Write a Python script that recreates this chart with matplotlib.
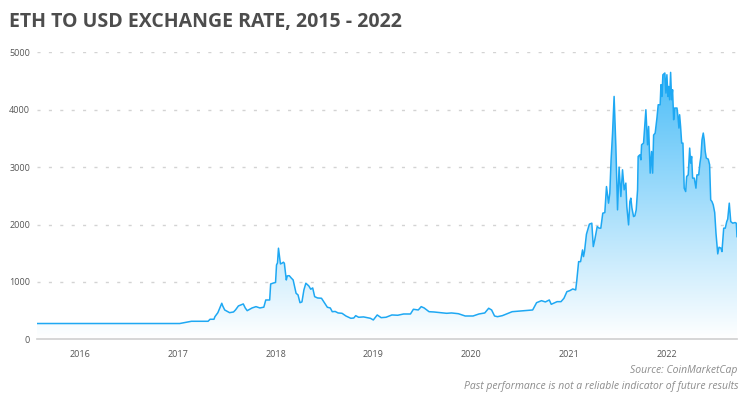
import numpy as np
import matplotlib
matplotlib.use("Agg")
import matplotlib.pyplot as plt
from matplotlib.colors import LinearSegmentedColormap

title = "ETH TO USD EXCHANGE RATE, 2015 - 2022"
source = "Source: CoinMarketCap"
disclaimer = "Past performance is not a reliable indicator of future results"
year_ticks = [2016, 2017, 2018, 2019, 2020, 2021, 2022]
price_ticks = [0, 1000, 2000, 3000, 4000, 5000]

# decimal-year positions of the sampled points
dates = [
    2015.56, 2017.02, 2017.14, 2017.31, 2017.33, 2017.37, 2017.38, 2017.41, 2017.45, 2017.46,
    2017.48, 2017.53, 2017.57, 2017.59, 2017.62, 2017.67, 2017.69, 2017.71, 2017.76, 2017.80,
    2017.84, 2017.88, 2017.90, 2017.94, 2017.95, 2017.98, 2018.00, 2018.01, 2018.02, 2018.03,
    2018.05, 2018.07, 2018.08, 2018.09, 2018.11, 2018.12, 2018.14, 2018.16, 2018.18, 2018.21,
    2018.23, 2018.25, 2018.27, 2018.29, 2018.31, 2018.34, 2018.36, 2018.38, 2018.40, 2018.43,
    2018.47, 2018.50, 2018.53, 2018.56, 2018.58, 2018.61, 2018.64, 2018.68, 2018.72, 2018.77,
    2018.80, 2018.82, 2018.85, 2018.90, 2018.97, 2019.00, 2019.04, 2019.08, 2019.13, 2019.19,
    2019.25, 2019.31, 2019.38, 2019.41, 2019.46, 2019.49, 2019.52, 2019.57, 2019.62, 2019.69,
    2019.75, 2019.80, 2019.87, 2019.94, 2020.02, 2020.08, 2020.14, 2020.18, 2020.21, 2020.24,
    2020.27, 2020.32, 2020.42, 2020.54, 2020.63, 2020.67, 2020.72, 2020.76, 2020.80, 2020.82,
    2020.88, 2020.92, 2020.95, 2020.98, 2021.01, 2021.04, 2021.07, 2021.08, 2021.10, 2021.12,
    2021.14, 2021.15, 2021.16, 2021.18, 2021.21, 2021.235, 2021.25, 2021.265, 2021.29, 2021.31,
    2021.327, 2021.347, 2021.368, 2021.385, 2021.396, 2021.406, 2021.419, 2021.432, 2021.447, 2021.463,
    2021.481, 2021.498, 2021.514, 2021.532, 2021.549, 2021.566, 2021.583, 2021.593, 2021.611, 2021.624,
    2021.634, 2021.645, 2021.662, 2021.675, 2021.689, 2021.703, 2021.709, 2021.726, 2021.737, 2021.744,
    2021.764, 2021.788, 2021.805, 2021.816, 2021.832, 2021.846, 2021.857, 2021.867, 2021.883, 2021.901,
    2021.914, 2021.934, 2021.942, 2021.952, 2021.962, 2021.982, 2021.993, 2022.003, 2022.013, 2022.020,
    2022.031, 2022.041, 2022.051, 2022.061, 2022.072, 2022.082, 2022.106, 2022.116, 2022.126, 2022.133,
    2022.143, 2022.154, 2022.167, 2022.180, 2022.195, 2022.205, 2022.221, 2022.236, 2022.246, 2022.256,
    2022.266, 2022.283, 2022.300, 2022.310, 2022.328, 2022.341, 2022.351, 2022.362, 2022.375, 2022.385,
    2022.395, 2022.406, 2022.426, 2022.440, 2022.451, 2022.464, 2022.477, 2022.492, 2022.505, 2022.523,
    2022.536, 2022.556, 2022.566, 2022.584, 2022.600, 2022.615, 2022.625, 2022.641, 2022.656, 2022.676,
    2022.700, 2022.713, 2022.720,
]

# ETH price in USD at each point
prices = [
    275, 275, 314, 314, 349, 349, 394, 464, 628, 581,
    511, 464, 476, 511, 581, 616, 546, 499, 546, 569,
    546, 560, 685, 685, 964, 982, 990, 1296, 1331, 1587,
    1313, 1330, 1343, 1325, 1034, 1104, 1109, 1069, 1034, 802,
    773, 638, 651, 860, 977, 930, 872, 895, 743, 720,
    715, 638, 558, 546, 481, 485, 459, 453, 406, 366,
    371, 412, 384, 390, 366, 337, 424, 377, 384, 424,
    419, 441, 441, 523, 511, 569, 546, 481, 476, 464,
    453, 459, 446, 406, 406, 441, 459, 541, 511, 406,
    394, 412, 481, 499, 511, 638, 673, 651, 685, 610,
    656, 656, 715, 830, 848, 877, 860, 1005, 1353, 1353,
    1557, 1441, 1528, 1831, 2006, 2023, 1615, 1732, 1964, 1936,
    1936, 2197, 2208, 2661, 2517, 2372, 2546, 3127, 3593, 4231,
    3359, 2255, 3000, 2487, 2953, 2604, 2721, 2313, 1993, 2400,
    2459, 2290, 2138, 2150, 2255, 2604, 3185, 3214, 3127, 3389,
    3418, 3999, 3389, 3708, 2895, 3272, 2895, 3558, 3593, 3854,
    4086, 4086, 4435, 4231, 4609, 4639, 4290, 4609, 4231, 4405,
    4173, 4650, 4173, 4348, 3825, 4029, 4029, 3882, 3680, 3912,
    3708, 3418, 3418, 2633, 2574, 2836, 2865, 3331, 3069, 3185,
    2808, 2808, 2633, 2865, 2865, 3069, 3185, 3476, 3593, 3476,
    3272, 3157, 3139, 3040, 2429, 2400, 2342, 2208, 1849, 1488,
    1604, 1587, 1528, 1936, 1936, 2051, 2093, 2372, 2051, 2023,
    2034, 2023, 1789,
]

fig = plt.figure(figsize=(7.5, 4.03), dpi=100)
fig.patch.set_facecolor("white")
ax = fig.add_axes([37 / 750, (403 - 339.3) / 403, 700 / 750, 287 / 403])

line_color = "#1ea8f3"
ax.plot(dates, prices, color=line_color, lw=1.1, zorder=4, solid_joinstyle="round")

poly = ax.fill_between(dates, prices, 0, facecolor="none", edgecolor="none")
grad = np.linspace(0, 1, 256).reshape(-1, 1)
cmap = LinearSegmentedColormap.from_list("g", ["#ffffff", "#4bbdf8"])
im = ax.imshow(grad, extent=[dates[0], dates[-1], 0, 4700], origin="lower",
               aspect="auto", cmap=cmap, zorder=3, interpolation="bilinear")
im.set_clip_path(poly.get_paths()[0], ax.transData)

ax.set_xlim(dates[0], dates[-1])
ax.set_ylim(0, 5000)
ax.set_xticks(year_ticks)
ax.set_xticklabels([str(y) for y in year_ticks])
ax.set_yticks(price_ticks)
ax.set_yticklabels([str(p) for p in price_ticks])

ax.yaxis.grid(True, color="#d3d3d3", lw=1.0, linestyle=(0, (2.2, 6.0)), zorder=1)
ax.set_axisbelow(True)
for s in ["top", "right", "left"]:
    ax.spines[s].set_visible(False)
ax.spines["bottom"].set_color("#cfcfcf")
ax.spines["bottom"].set_linewidth(1.2)
ax.spines["bottom"].set_zorder(5)

ax.tick_params(axis="both", length=0, labelsize=6.5, labelcolor="#555555")
ax.tick_params(axis="y", pad=5)
ax.tick_params(axis="x", pad=8)
for lab in ax.get_xticklabels() + ax.get_yticklabels():
    lab.set_fontfamily("Open Sans")

fig.text(9 / 750, 1 - 22.5 / 403, title, fontsize=14, fontweight="bold",
         color="#4d4d4d", family="Open Sans", ha="left", va="center")
fig.text(737 / 750, 1 - 371 / 403, source, fontsize=7.5, style="italic",
         color="#8c8c8c", family="Open Sans", ha="right", va="center")
fig.text(738 / 750, 1 - 387 / 403, disclaimer, fontsize=7.5, style="italic",
         color="#8c8c8c", family="Open Sans", ha="right", va="center")

fig.savefig("out.png", dpi=100, facecolor="white")
